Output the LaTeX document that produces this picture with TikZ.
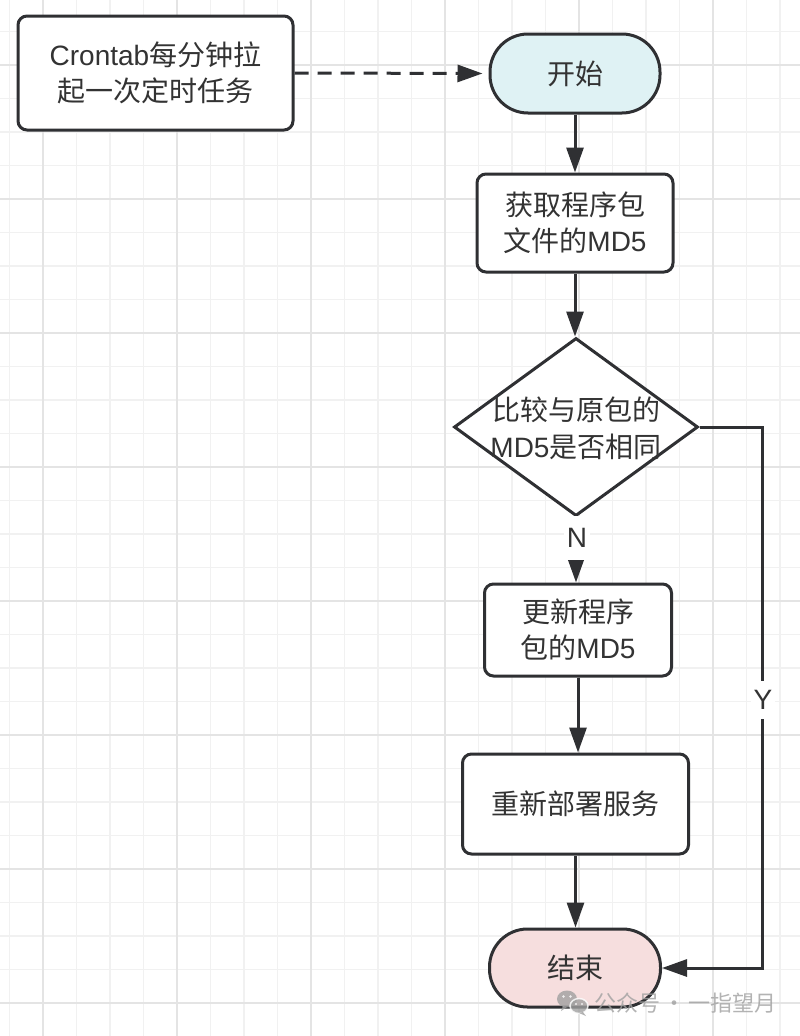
\documentclass[tikz,border=0pt]{standalone}
\usepackage{fontspec}
\setmainfont{Liberation Sans}
\newfontfamily\cjk{Noto Sans CJK SC}
\usetikzlibrary{arrows.meta,shapes.geometric}
\definecolor{ln}{HTML}{2F3033}
\definecolor{tx}{HTML}{333333}
\definecolor{gmin}{HTML}{F1F1F1}
\definecolor{gmaj}{HTML}{E4E4E4}
\definecolor{startfill}{HTML}{DFF2F4}
\definecolor{endfill}{HTML}{F6DEDE}
\definecolor{wm}{HTML}{A0A0A0}
\newcommand\zw[1]{{\cjk #1}}
\begin{document}
\begin{tikzpicture}[x=1pt,y=-1pt,
  box/.style={draw=ln, line width=3pt, rounded corners=9pt, fill=white, text=tx,
    align=center, font=\fontsize{28}{36}\selectfont, inner sep=0pt},
  term/.style={box, rounded corners=38pt},
  arr/.style={draw=ln, line width=3pt, -{Triangle[length=25pt,width=17pt]}},
  lab/.style={fill=white, text=tx, font=\fontsize{28}{36}\selectfont, inner xsep=3pt, inner ysep=9pt}]
\useasboundingbox (0,0) rectangle (800,1036);
\fill[white] (0,0) rectangle (800,1036);
% grid
\foreach \k in {0,...,23} {\pgfmathsetmacro\xx{9.3+33.5*\k}
  \draw[gmin, line width=1.5pt] (\xx,0) -- (\xx,1036);}
\foreach \k in {0,...,31} {\pgfmathsetmacro\yy{-2+33.5*\k}
  \draw[gmin, line width=1.5pt] (0,\yy) -- (800,\yy);}
\foreach \k in {1,5,9,13,17,21} {\pgfmathsetmacro\xx{9.3+33.5*\k}
  \draw[gmaj, line width=2pt] (\xx,0) -- (\xx,1036);}
\foreach \k in {2,6,10,14,18,22,26,30} {\pgfmathsetmacro\yy{-2+33.5*\k}
  \draw[gmaj, line width=2pt] (0,\yy) -- (800,\yy);}
% nodes
\node[box, minimum width=275pt, minimum height=114pt] (cron) at (155.5,73)
  {Crontab\zw{每分钟拉}\\\zw{起一次定时任务}};
\node[term, fill=startfill, minimum width=170pt, minimum height=79pt] (start) at (575,73.5)
  {\zw{开始}};
\node[box, minimum width=196pt, minimum height=98pt] (get) at (575,223)
  {\zw{获取程序包}\\\zw{文件的}MD5};
\node[diamond, draw=ln, line width=3pt, fill=white, inner sep=0pt,
  minimum width=244pt, minimum height=178pt] (dec) at (576,427) {};
\node[text=tx, align=center, font=\fontsize{28}{37}\selectfont, inner sep=0pt] (dectext) at (576,428)
  {\zw{比较与原包的}\\MD5\zw{是否相同}};
\node[box, minimum width=187pt, minimum height=92pt] (upd) at (578,630)
  {\zw{更新程序}\\\zw{包的}MD5};
\node[box, minimum width=226pt, minimum height=100pt] (dep) at (575.5,804)
  {\zw{重新部署服务}};
\node[term, fill=endfill, minimum width=171pt, minimum height=78pt] (end) at (575,968)
  {\zw{结束}};
% connectors
\draw[arr, dash pattern=on 14pt off 9pt, shorten >=6pt] (cron.east) -- (start.west);
\draw[arr] (start.south) -- (start.south |- get.north);
\draw[arr] (get.south) -- (get.south |- dec.north);
\draw[arr] (dec.south) -- (dec.south |- upd.north);
\node[lab, inner ysep=12pt] (nlab) at (577,538) {N};
\draw[arr] (upd.south) -- (upd.south |- dep.north);
\draw[arr] (dep.south) -- (dep.south |- end.north);
\coordinate (ytop) at (762,427);
\coordinate (ybot) at (762,968);
\draw[arr] (dec.east) -- (ytop) -- (ybot) -- (end.east);
\node[lab] (ylab) at (763,700) {Y};
% watermark
\begin{scope}[opacity=0.8]
\fill[wm] (567,999) ellipse [x radius=10pt, y radius=8.5pt];
\fill[wm] (563,1006) -- (561,1011) -- (567,1007) -- cycle;
\draw[white, line width=1.5pt, fill=wm] (579,1006) ellipse [x radius=9pt, y radius=7.5pt];
\fill[wm] (583,1012) -- (586,1016) -- (579,1013) -- cycle;
\fill[white] (563.5,996.5) circle (1.4pt) (570.5,996.5) circle (1.4pt);
\fill[white] (576,1004) circle (1.1pt) (582,1004) circle (1.1pt);
\node[text=wm, font=\fontsize{22}{26}\selectfont, inner sep=0pt, anchor=west] (wmtext) at (594,1003)
  {\zw{公众号}\hspace{3pt}{\cjk\char"00B7}\hspace{3pt}\zw{一指望月}};
\end{scope}
\end{tikzpicture}
\end{document}
